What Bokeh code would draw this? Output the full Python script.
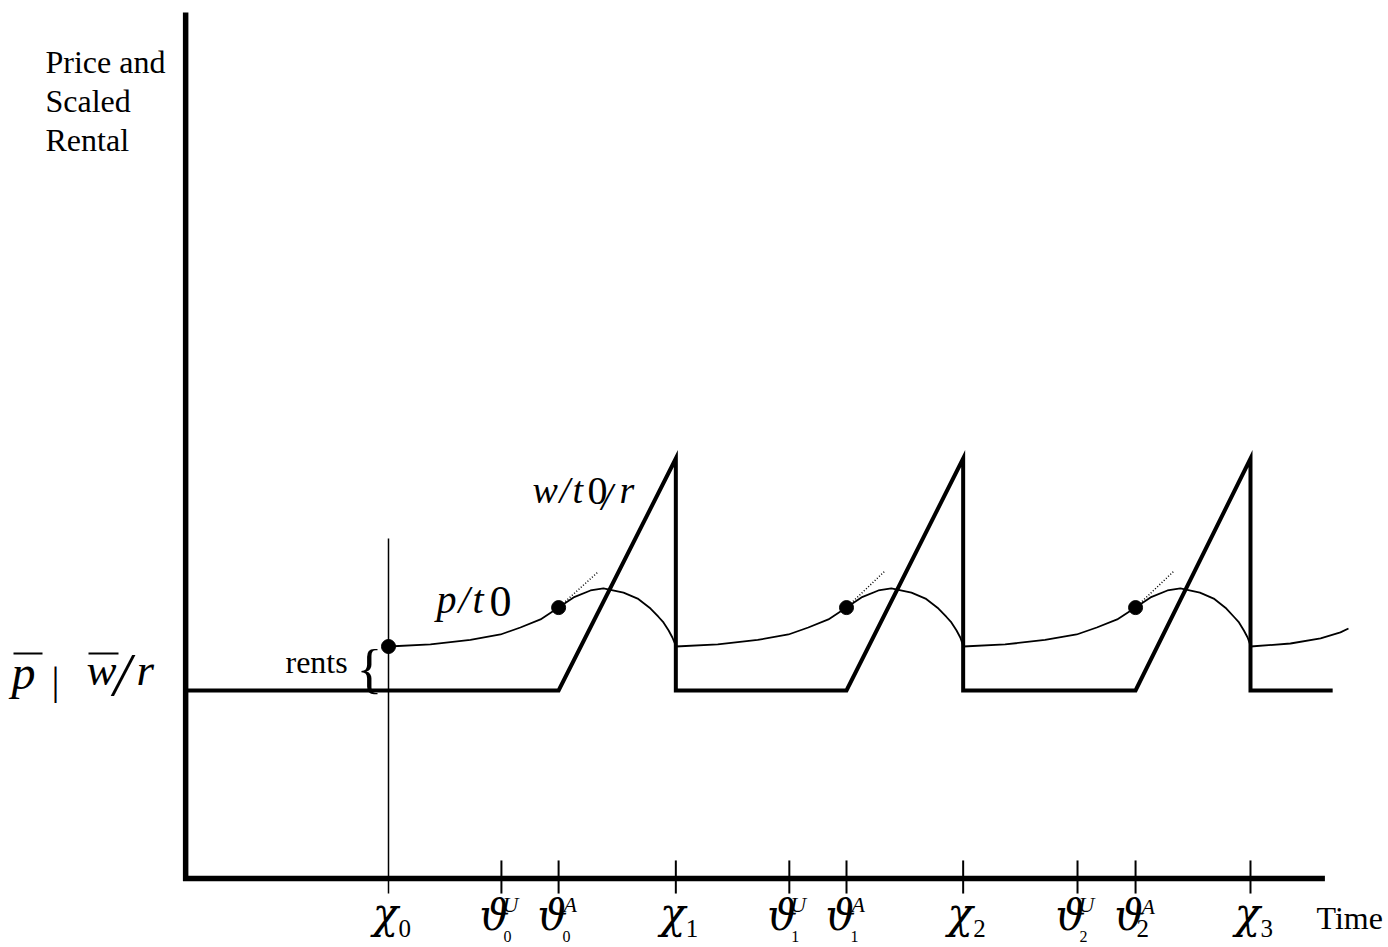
from bokeh.plotting import figure
from bokeh.models import Range1d
from bokeh.core.properties import value
from bokeh.embed import file_html
from bokeh.resources import INLINE

# ---------------- data (time in cycle units, value relative to p-bar = w-bar/r = 1) ----------------
chi_times = [0.0, 1.0, 2.0, 3.0]
chi_subs = ["0", "1", "2", "3"]
theta_U_times = [0.393, 1.395, 2.398]
theta_A_times = [0.592, 1.594, 2.600]
theta_subs = ["0", "1", "2"]

w_bar = 1.0          # p-bar = w-bar / r
w_peak = 2.234       # w(t)/r at each chi
axis_start_t = -0.706
axis_end_t = 3.259
axis_top = 4.606
w_end_t = 3.286
chi0_line_top = 1.809
tick_top = 0.096
tick_bottom = -0.080

# p(t), cycle by cycle
p_time_0 = [0.000, 0.146, 0.285, 0.390, 0.459, 0.529, 0.592, 0.644, 0.703, 0.748, 0.818, 0.867, 0.912, 0.940, 0.957, 0.975, 0.988, 1.000]
p_val_0 = [1.234, 1.245, 1.269, 1.298, 1.335, 1.378, 1.441, 1.495, 1.532, 1.543, 1.521, 1.489, 1.436, 1.391, 1.362, 1.319, 1.282, 1.239]
p_time_1 = [1.000, 1.146, 1.285, 1.392, 1.461, 1.531, 1.594, 1.646, 1.705, 1.750, 1.820, 1.869, 1.914, 1.942, 1.959, 1.977, 1.990, 2.000]
p_val_1 = [1.234, 1.245, 1.269, 1.298, 1.335, 1.378, 1.441, 1.495, 1.532, 1.543, 1.521, 1.489, 1.436, 1.391, 1.362, 1.319, 1.282, 1.239]
p_time_2 = [2.000, 2.146, 2.285, 2.395, 2.465, 2.536, 2.600, 2.652, 2.711, 2.756, 2.824, 2.872, 2.916, 2.943, 2.960, 2.977, 2.990, 3.000]
p_val_2 = [1.234, 1.245, 1.269, 1.298, 1.335, 1.378, 1.441, 1.495, 1.532, 1.543, 1.521, 1.489, 1.436, 1.391, 1.362, 1.319, 1.282, 1.239]
p_time_tail = [3.000, 3.139, 3.244, 3.313, 3.341]
p_val_tail = [1.234, 1.250, 1.277, 1.309, 1.330]

dot_times = [0.0, 0.592, 1.594, 2.600]
dot_vals = [1.234, 1.441, 1.441, 1.441]
tangent_end_t = [0.731, 1.726, 2.732]
tangent_end_v = [1.633, 1.633, 1.633]

# ---------------- figure ----------------
PX_T = 287.33   # pixels per time unit
PX_V = 188.0    # pixels per value unit
X0_PX, Y0_PX = 388.0, 878.0
W, H = 1386, 945
BASE_FIX = 0.36   # em correction for where the alphabetic baseline lands


def tx(px):
    return (px - X0_PX) / PX_T


def vy(py):
    return (Y0_PX - py) / PX_V


p = figure(width=W, height=H, output_backend="svg", toolbar_location=None,
           x_range=Range1d(tx(0), tx(W)), y_range=Range1d(vy(H), vy(0)),
           min_border=0, outline_line_color=None,
           x_axis_location=None, y_axis_location=None)
p.grid.visible = False
p.background_fill_color = "white"

FONT = "Liberation Serif"
GREEK_FONT = "DejaVu Serif"

# axes
p.line([axis_start_t, axis_start_t, axis_end_t], [axis_top, 0, 0],
       line_width=5.5, color="black", line_join="miter")

# ticks
tick_x = chi_times[1:] + theta_U_times + theta_A_times
p.segment(x0=tick_x, y0=[tick_top] * len(tick_x), x1=tick_x, y1=[tick_bottom] * len(tick_x),
          line_width=2, color="black")

# chi0 vertical line
p.line([chi_times[0], chi_times[0]], [chi0_line_top, tick_bottom], line_width=1.5, color="black")

# w(t)/r sawtooth built from the event times
w_t = [axis_start_t]
w_v = [w_bar]
for k in range(3):
    w_t += [theta_A_times[k], chi_times[k + 1], chi_times[k + 1]]
    w_v += [w_bar, w_peak, w_bar]
w_t.append(w_end_t)
w_v.append(w_bar)
p.line(w_t, w_v, line_width=4, color="black", line_join="miter")

# p(t)
p_t = p_time_0 + p_time_1 + p_time_2 + p_time_tail
p_v = p_val_0 + p_val_1 + p_val_2 + p_val_tail
p.line(p_t, p_v, line_width=1.8, color="black")

# dotted tangents
p.segment(x0=theta_A_times, y0=dot_vals[1:], x1=tangent_end_t, y1=tangent_end_v,
          line_width=1.5, line_dash="1 2", color="black")

# dots
p.scatter(dot_times, dot_vals, size=14, marker="circle", color="black")


def label(txt, px, py, size, style="normal", align="left", font=FONT):
    py_eff = py - BASE_FIX * size
    p.text(x=[tx(px)], y=[vy(py_eff)], text=[txt], text_font=value(font),
           text_font_size=f"{size}px", text_font_style=style,
           text_align=align, text_baseline="alphabetic", text_color="black")


# y title
label("Price and", 45, 73, 32)
label("Scaled", 45, 112, 32)
label("Rental", 45, 151, 32)
label("Time", 1316, 929, 32)

# chi tick labels
for t, s in zip(chi_times, chi_subs):
    px = X0_PX + t * PX_T
    label("\u03c7", px - 3, 928, 42, "italic", "center", GREEK_FONT)
    label(s, px + 10, 937, 25)

# theta tick labels
for i, (tu, ta, s) in enumerate(zip(theta_U_times, theta_A_times, theta_subs)):
    pu = X0_PX + tu * PX_T
    pa = X0_PX + ta * PX_T
    label("\u03d1", pu - 7, 930, 42, "italic", "center", GREEK_FONT)
    label("U", pu + 1, 912, 22, "italic")
    label(s, pu + 2, 942, 16)
    label("\u03d1", pa - 6, 930, 42, "italic", "center", GREEK_FONT)
    if i == 2:
        label("A", pa + 6, 914, 22, "italic")
        label(s, pa + 1, 937, 25)
    else:
        label("A", pa + 5, 912, 22, "italic")
        label(s, pa + 4, 942, 16)

# curve labels: w(t)/r and p(t)
label("w", 532, 503, 38, "italic")
label("/", 559, 503, 38, "italic")
label("t", 572, 503, 38, "italic")
label("0", 587, 505, 40)
label("/", 601, 510, 40, "italic")
label("r", 619, 503, 38, "italic")
label("p", 436, 613, 40, "italic")
label("/", 458, 613, 40, "italic")
label("t", 472, 613, 40, "italic")
label("0", 489, 617, 44)

# p-bar | w-bar / r
label("p", 11, 689, 48, "italic")
label("|", 51, 694, 40)
label("w", 86, 686, 45, "italic")
label("/", 113, 696, 62, "italic")
label("r", 136, 686, 45, "italic")
p.segment(x0=[tx(13), tx(88)], y0=[vy(653)] * 2, x1=[tx(42), tx(118)], y1=[vy(653)] * 2,
          line_width=2, color="black")

# rents brace
label("rents", 285, 673, 32)
label("{", 356, 688, 54)

open("out.html", "w").write(file_html(p, INLINE))
